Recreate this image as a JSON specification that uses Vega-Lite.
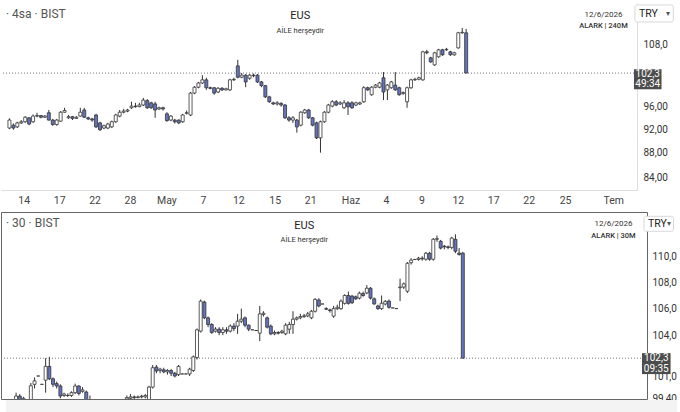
{
  "$schema": "https://vega.github.io/schema/vega-lite/v6.json",
  "padding": {"top": 3, "left": 0, "right": 0, "bottom": 0},
  "background": "#ffffff",
  "spacing": 5,
  "config": {"font": "Roboto", "view": {"stroke": null}, "axis": {"labelOverlap": false}},
  "datasets": {
    "top": [
      {"i":0,"o":92.2,"c":93.6,"h":93.9,"l":92.0},{"i":1,"o":92.7,"c":92.2,"h":93.0,"l":91.9},{"i":2,"o":92.4,"c":93.1,"h":93.3,"l":92.2},
      {"i":3,"o":93.1,"c":93.3,"h":93.6,"l":92.9},{"i":4,"o":93.3,"c":94.1,"h":94.3,"l":93.1},{"i":5,"o":94.0,"c":92.9,"h":94.1,"l":92.7},
      {"i":6,"o":93.3,"c":94.3,"h":94.6,"l":93.1},{"i":7,"o":94.3,"c":94.4,"h":94.9,"l":94.1},{"i":8,"o":94.4,"c":94.1,"h":94.5,"l":93.9},
      {"i":9,"o":94.1,"c":94.3,"h":94.5,"l":94.0},{"i":10,"o":94.9,"c":93.6,"h":95.4,"l":93.5},{"i":11,"o":93.6,"c":92.8,"h":93.8,"l":92.6},
      {"i":12,"o":92.8,"c":93.6,"h":93.8,"l":92.6},{"i":13,"o":93.4,"c":95.0,"h":95.2,"l":93.3},{"i":14,"o":95.0,"c":95.3,"h":95.8,"l":94.9},
      {"i":15,"o":94.0,"c":94.2,"h":94.5,"l":93.8},{"i":16,"o":94.2,"c":93.9,"h":94.3,"l":93.6},{"i":17,"o":93.9,"c":94.1,"h":94.3,"l":93.8},
      {"i":18,"o":94.3,"c":95.0,"h":95.8,"l":94.2},{"i":19,"o":95.4,"c":94.1,"h":95.8,"l":94.0},{"i":20,"o":94.0,"c":93.8,"h":94.2,"l":93.6},
      {"i":21,"o":93.8,"c":93.6,"h":94.0,"l":93.3},{"i":22,"o":94.5,"c":92.4,"h":94.7,"l":92.2},{"i":23,"o":93.1,"c":91.9,"h":93.3,"l":91.7},
      {"i":24,"o":92.2,"c":92.6,"h":92.8,"l":92.0},{"i":25,"o":92.2,"c":92.9,"h":93.1,"l":92.0},{"i":26,"o":92.4,"c":93.3,"h":93.5,"l":92.2},
      {"i":27,"o":93.3,"c":94.5,"h":94.7,"l":93.1},{"i":28,"o":94.3,"c":95.0,"h":95.4,"l":94.1},{"i":29,"o":95.0,"c":95.2,"h":95.6,"l":94.8},
      {"i":30,"o":95.2,"c":95.4,"h":95.6,"l":95.0},{"i":31,"o":95.8,"c":96.1,"h":96.9,"l":95.6},{"i":32,"o":96.1,"c":96.0,"h":96.7,"l":95.8},
      {"i":33,"o":96.0,"c":96.3,"h":96.7,"l":95.9},{"i":34,"o":96.3,"c":97.2,"h":97.6,"l":96.1},{"i":35,"o":97.1,"c":95.8,"h":97.4,"l":95.6},
      {"i":36,"o":96.7,"c":95.8,"h":96.9,"l":95.6},{"i":37,"o":96.5,"c":95.4,"h":96.9,"l":94.0},{"i":38,"o":95.6,"c":95.8,"h":96.0,"l":95.4},
      {"i":39,"o":95.8,"c":95.6,"h":96.0,"l":95.3},{"i":40,"o":94.7,"c":93.5,"h":95.0,"l":93.3},{"i":41,"o":93.6,"c":94.3,"h":94.5,"l":93.4},
      {"i":42,"o":93.6,"c":93.3,"h":93.8,"l":93.0},{"i":43,"o":93.6,"c":93.1,"h":93.7,"l":92.9},{"i":44,"o":93.3,"c":94.5,"h":94.7,"l":93.1},
      {"i":45,"o":94.8,"c":94.9,"h":95.3,"l":94.6},{"i":46,"o":94.5,"c":98.5,"h":98.7,"l":94.3},{"i":47,"o":98.5,"c":99.6,"h":99.8,"l":98.3},
      {"i":48,"o":99.6,"c":100.4,"h":100.6,"l":99.4},{"i":49,"o":100.4,"c":101.0,"h":101.9,"l":100.2},{"i":50,"o":101.0,"c":99.5,"h":101.4,"l":99.1},
      {"i":51,"o":99.5,"c":99.4,"h":99.7,"l":99.2},{"i":52,"o":99.5,"c":98.5,"h":99.6,"l":98.2},{"i":53,"o":98.7,"c":99.4,"h":99.6,"l":98.5},
      {"i":54,"o":99.4,"c":99.1,"h":99.6,"l":98.9},{"i":55,"o":99.1,"c":99.3,"h":99.5,"l":99.0},{"i":56,"o":99.1,"c":101.0,"h":101.2,"l":98.9},
      {"i":57,"o":101.0,"c":101.1,"h":101.4,"l":100.8},{"i":58,"o":103.7,"c":101.5,"h":104.9,"l":101.3},{"i":59,"o":101.5,"c":101.9,"h":102.3,"l":101.3},
      {"i":60,"o":101.9,"c":100.6,"h":102.1,"l":99.6},{"i":61,"o":101.3,"c":101.9,"h":102.1,"l":101.0},{"i":62,"o":101.9,"c":101.8,"h":102.2,"l":101.5},
      {"i":63,"o":101.9,"c":100.6,"h":102.1,"l":100.4},{"i":64,"o":100.6,"c":99.9,"h":100.8,"l":99.6},{"i":65,"o":99.9,"c":97.8,"h":100.0,"l":97.6},
      {"i":66,"o":97.8,"c":96.9,"h":98.0,"l":96.7},{"i":67,"o":96.7,"c":96.5,"h":96.9,"l":96.3},{"i":68,"o":96.5,"c":96.7,"h":97.0,"l":96.2},
      {"i":69,"o":96.6,"c":96.3,"h":96.8,"l":96.0},{"i":70,"o":96.3,"c":94.0,"h":96.5,"l":93.8},{"i":71,"o":94.0,"c":93.6,"h":94.3,"l":93.3},
      {"i":72,"o":93.6,"c":94.0,"h":94.3,"l":93.1},{"i":73,"o":93.6,"c":92.4,"h":93.8,"l":91.4},{"i":74,"o":92.7,"c":95.0,"h":95.2,"l":92.5},
      {"i":75,"o":94.9,"c":95.4,"h":95.6,"l":94.7},{"i":76,"o":95.4,"c":94.0,"h":95.6,"l":93.8},{"i":77,"o":94.0,"c":92.7,"h":94.1,"l":92.5},
      {"i":78,"o":93.1,"c":90.5,"h":93.3,"l":90.3},{"i":79,"o":90.5,"c":93.3,"h":93.5,"l":88.0},{"i":80,"o":93.3,"c":95.0,"h":95.2,"l":93.1},
      {"i":81,"o":95.0,"c":96.3,"h":96.5,"l":94.8},{"i":82,"o":96.1,"c":96.9,"h":97.2,"l":95.9},{"i":83,"o":96.9,"c":96.3,"h":97.2,"l":96.1},
      {"i":84,"o":96.5,"c":96.7,"h":97.0,"l":96.3},{"i":85,"o":95.8,"c":96.7,"h":97.2,"l":95.6},{"i":86,"o":96.7,"c":96.0,"h":97.0,"l":94.5},
      {"i":87,"o":96.7,"c":95.8,"h":97.0,"l":95.6},{"i":88,"o":96.3,"c":96.7,"h":96.9,"l":96.1},{"i":89,"o":96.5,"c":96.7,"h":96.9,"l":96.3},
      {"i":90,"o":96.9,"c":99.5,"h":99.8,"l":96.7},{"i":91,"o":99.5,"c":99.1,"h":99.7,"l":98.9},{"i":92,"o":98.2,"c":99.6,"h":99.8,"l":98.0},
      {"i":93,"o":99.6,"c":100.0,"h":100.2,"l":99.4},{"i":94,"o":99.6,"c":100.4,"h":100.6,"l":99.4},{"i":95,"o":101.4,"c":98.7,"h":102.5,"l":97.2},
      {"i":96,"o":99.1,"c":100.0,"h":100.2,"l":97.2},{"i":97,"o":99.5,"c":100.6,"h":100.8,"l":99.3},{"i":98,"o":100.0,"c":99.1,"h":102.5,"l":98.9},
      {"i":99,"o":99.5,"c":98.2,"h":99.7,"l":98.0},{"i":100,"o":98.4,"c":98.6,"h":98.8,"l":98.2},{"i":101,"o":96.9,"c":99.5,"h":99.7,"l":95.8},
      {"i":102,"o":99.5,"c":101.0,"h":101.2,"l":99.3},{"i":103,"o":101.0,"c":101.1,"h":101.4,"l":100.8},{"i":104,"o":101.1,"c":101.4,"h":101.6,"l":100.9},
      {"i":105,"o":101.0,"c":106.5,"h":106.7,"l":100.8},{"i":106,"o":106.5,"c":106.3,"h":106.9,"l":106.0},{"i":107,"o":105.3,"c":104.5,"h":105.5,"l":104.3},
      {"i":108,"o":103.9,"c":106.3,"h":106.5,"l":103.7},{"i":109,"o":105.5,"c":106.9,"h":107.1,"l":105.3},{"i":110,"o":106.9,"c":105.9,"h":107.1,"l":105.7},
      {"i":111,"o":106.9,"c":107.0,"h":107.3,"l":106.7},{"i":112,"o":106.5,"c":105.9,"h":106.7,"l":105.7},{"i":113,"o":105.9,"c":106.3,"h":106.5,"l":105.7},
      {"i":114,"o":107.3,"c":110.4,"h":110.6,"l":107.1},{"i":115,"o":110.4,"c":110.5,"h":111.4,"l":110.2},{"i":116,"o":110.4,"c":102.3,"h":111.2,"l":102.3}
    ],
    "bot": [
      {"i":0,"o":99.0,"c":98.9,"h":99.2,"l":98.7},{"i":1,"o":98.9,"c":99.2,"h":99.3,"l":98.8},{"i":2,"o":99.3,"c":99.56,"h":99.8,"l":99.1},
      {"i":3,"o":99.56,"c":99.2,"h":99.7,"l":99.0},{"i":4,"o":99.3,"c":99.4,"h":99.5,"l":99.1},{"i":5,"o":99.3,"c":99.2,"h":99.35,"l":99.0},
      {"i":6,"o":99.2,"c":100.3,"h":100.5,"l":99.0},{"i":7,"o":100.4,"c":100.65,"h":100.9,"l":100.1},{"i":8,"o":101.0,"c":101.0,"h":101.0,"l":101.0},
      {"i":9,"o":100.4,"c":100.4,"h":100.4,"l":100.4},{"i":10,"o":100.7,"c":101.7,"h":102.3,"l":99.8},{"i":11,"o":101.7,"c":100.8,"h":102.4,"l":100.7},
      {"i":12,"o":100.8,"c":100.4,"h":100.9,"l":100.2},{"i":13,"o":100.45,"c":100.28,"h":100.6,"l":100.1},{"i":14,"o":100.28,"c":99.56,"h":100.4,"l":99.4},
      {"i":15,"o":99.6,"c":99.7,"h":99.8,"l":99.5},{"i":16,"o":99.6,"c":99.6,"h":99.75,"l":99.5},{"i":17,"o":99.6,"c":99.8,"h":99.9,"l":99.5},
      {"i":18,"o":99.8,"c":100.28,"h":100.45,"l":99.7},{"i":19,"o":100.28,"c":99.75,"h":100.35,"l":99.6},{"i":20,"o":99.9,"c":100.0,"h":100.2,"l":99.8},
      {"i":21,"o":99.85,"c":99.2,"h":99.95,"l":99.0},{"i":22,"o":99.2,"c":99.1,"h":99.6,"l":98.9},{"i":23,"o":99.1,"c":98.9,"h":99.2,"l":98.7},
      {"i":24,"o":98.9,"c":98.6,"h":99.0,"l":98.4},{"i":25,"o":98.6,"c":98.8,"h":98.9,"l":98.5},{"i":26,"o":98.8,"c":98.7,"h":99.0,"l":98.6},
      {"i":27,"o":98.7,"c":98.9,"h":99.1,"l":98.6},{"i":28,"o":98.9,"c":99.0,"h":99.2,"l":98.8},{"i":29,"o":99.0,"c":99.1,"h":99.3,"l":98.9},
      {"i":30,"o":99.1,"c":99.2,"h":99.3,"l":99.0},{"i":31,"o":99.2,"c":99.25,"h":99.3,"l":99.1},{"i":32,"o":99.35,"c":99.45,"h":99.6,"l":99.3},
      {"i":33,"o":99.4,"c":99.5,"h":99.7,"l":99.3},{"i":34,"o":99.5,"c":99.45,"h":99.6,"l":99.3},{"i":35,"o":99.45,"c":99.5,"h":99.6,"l":99.4},
      {"i":36,"o":99.5,"c":99.55,"h":99.65,"l":99.4},{"i":37,"o":99.5,"c":99.6,"h":99.7,"l":99.4},{"i":38,"o":99.3,"c":100.2,"h":100.3,"l":99.2},
      {"i":39,"o":100.2,"c":101.6,"h":101.8,"l":100.1},{"i":40,"o":101.65,"c":101.36,"h":101.8,"l":101.2},{"i":41,"o":101.4,"c":101.5,"h":101.6,"l":101.2},
      {"i":42,"o":101.45,"c":101.3,"h":101.6,"l":101.2},{"i":43,"o":101.3,"c":101.4,"h":101.5,"l":101.1},{"i":44,"o":101.4,"c":101.2,"h":101.5,"l":101.0},
      {"i":45,"o":101.2,"c":101.0,"h":101.3,"l":100.9},{"i":46,"o":101.1,"c":101.7,"h":101.8,"l":101.0},{"i":47,"o":101.15,"c":101.15,"h":101.15,"l":101.15},
      {"i":48,"o":101.15,"c":101.15,"h":101.15,"l":101.15},{"i":49,"o":101.15,"c":101.5,"h":101.6,"l":101.0},{"i":50,"o":101.4,"c":102.4,"h":102.5,"l":101.3},
      {"i":51,"o":102.35,"c":104.4,"h":104.5,"l":102.2},{"i":52,"o":104.3,"c":106.57,"h":106.7,"l":104.2},{"i":53,"o":106.5,"c":105.3,"h":106.6,"l":105.2},
      {"i":54,"o":105.3,"c":104.8,"h":105.4,"l":104.6},{"i":55,"o":104.8,"c":104.2,"h":104.9,"l":104.1},{"i":56,"o":104.3,"c":104.45,"h":104.6,"l":104.2},
      {"i":57,"o":104.45,"c":104.2,"h":104.6,"l":104.0},{"i":58,"o":104.2,"c":104.4,"h":104.6,"l":104.0},{"i":59,"o":104.4,"c":104.3,"h":104.6,"l":104.1},
      {"i":60,"o":104.3,"c":104.68,"h":104.8,"l":104.2},{"i":61,"o":104.68,"c":104.5,"h":104.9,"l":104.3},{"i":62,"o":104.68,"c":105.05,"h":105.6,"l":104.1},
      {"i":63,"o":105.05,"c":105.2,"h":106.0,"l":104.9},{"i":64,"o":105.3,"c":104.75,"h":105.4,"l":104.6},{"i":65,"o":104.75,"c":104.45,"h":104.8,"l":104.3},
      {"i":66,"o":104.4,"c":104.4,"h":104.4,"l":104.4},{"i":67,"o":104.35,"c":104.35,"h":104.35,"l":104.35},{"i":68,"o":104.15,"c":105.6,"h":106.2,"l":103.56},
      {"i":69,"o":105.55,"c":105.65,"h":105.8,"l":105.4},{"i":70,"o":105.3,"c":104.6,"h":105.4,"l":104.5},{"i":71,"o":104.68,"c":104.1,"h":104.8,"l":104.0},
      {"i":72,"o":104.1,"c":104.2,"h":104.35,"l":104.0},{"i":73,"o":104.2,"c":104.15,"h":104.3,"l":104.05},{"i":74,"o":104.2,"c":104.3,"h":104.4,"l":104.1},
      {"i":75,"o":104.1,"c":104.75,"h":104.9,"l":104.0},{"i":76,"o":104.45,"c":104.8,"h":105.0,"l":104.1},{"i":77,"o":104.8,"c":105.2,"h":105.8,"l":104.1},
      {"i":78,"o":105.2,"c":105.3,"h":105.4,"l":105.1},{"i":79,"o":105.3,"c":105.4,"h":105.6,"l":105.2},{"i":80,"o":105.4,"c":105.45,"h":105.6,"l":105.3},
      {"i":81,"o":105.45,"c":105.6,"h":105.75,"l":105.35},{"i":82,"o":105.3,"c":105.8,"h":105.9,"l":105.2},{"i":83,"o":105.8,"c":106.7,"h":106.8,"l":105.7},
      {"i":84,"o":106.65,"c":106.2,"h":106.8,"l":106.1},{"i":85,"o":106.35,"c":106.35,"h":106.35,"l":106.35},{"i":86,"o":106.0,"c":105.95,"h":106.1,"l":105.9},
      {"i":87,"o":105.9,"c":105.85,"h":106.0,"l":105.7},{"i":88,"o":105.43,"c":106.0,"h":106.2,"l":105.3},{"i":89,"o":106.0,"c":106.1,"h":106.3,"l":105.9},
      {"i":90,"o":106.0,"c":106.57,"h":106.7,"l":105.9},{"i":91,"o":106.4,"c":107.0,"h":107.1,"l":106.3},{"i":92,"o":107.0,"c":106.4,"h":107.3,"l":106.3},
      {"i":93,"o":106.95,"c":106.45,"h":107.05,"l":106.35},{"i":94,"o":106.9,"c":106.75,"h":107.0,"l":106.65},{"i":95,"o":106.8,"c":107.18,"h":107.3,"l":106.7},
      {"i":96,"o":107.15,"c":107.0,"h":107.3,"l":106.9},{"i":97,"o":107.2,"c":107.56,"h":107.8,"l":107.1},{"i":98,"o":107.56,"c":106.8,"h":107.65,"l":106.7},
      {"i":99,"o":106.75,"c":106.35,"h":106.85,"l":106.3},{"i":100,"o":106.2,"c":106.0,"h":106.3,"l":105.9},{"i":101,"o":106.0,"c":106.41,"h":107.0,"l":105.9},
      {"i":102,"o":106.35,"c":106.55,"h":106.65,"l":106.25},{"i":103,"o":106.57,"c":106.1,"h":106.7,"l":106.0},{"i":104,"o":106.05,"c":106.05,"h":106.05,"l":106.05},
      {"i":105,"o":106.0,"c":106.0,"h":106.0,"l":106.0},{"i":106,"o":107.6,"c":107.65,"h":108.3,"l":106.57},{"i":107,"o":107.65,"c":107.9,"h":108.0,"l":107.5},
      {"i":108,"o":107.33,"c":109.5,"h":109.6,"l":107.2},{"i":109,"o":109.55,"c":109.75,"h":109.9,"l":109.4},{"i":110,"o":109.8,"c":109.8,"h":109.8,"l":109.8},
      {"i":111,"o":109.8,"c":109.9,"h":110.0,"l":109.7},{"i":112,"o":109.9,"c":109.85,"h":110.05,"l":109.7},{"i":113,"o":109.82,"c":110.29,"h":110.4,"l":109.7},
      {"i":114,"o":110.29,"c":109.82,"h":110.4,"l":109.7},{"i":115,"o":109.82,"c":111.4,"h":111.5,"l":109.7},{"i":116,"o":111.4,"c":111.45,"h":111.7,"l":111.2},
      {"i":117,"o":111.24,"c":110.7,"h":111.35,"l":110.6},{"i":118,"o":110.85,"c":110.8,"h":110.95,"l":110.6},{"i":119,"o":110.8,"c":110.75,"h":110.9,"l":110.6},
      {"i":120,"o":110.75,"c":111.5,"h":111.6,"l":110.6},{"i":121,"o":111.4,"c":110.45,"h":111.8,"l":110.3},{"i":122,"o":110.3,"c":110.2,"h":110.7,"l":110.1},
      {"i":123,"o":110.3,"c":102.3,"h":110.4,"l":102.3}
    ]
  },
  "vconcat": [
    {
      "width": 636,
      "height": 187,
      "layer": [
        {
          "data": {"values": [{}]},
          "mark": {"type": "rule", "strokeDash": [1, 2], "color": "#777", "strokeWidth": 1},
          "encoding": {"y": {"datum": 102.3}}
        },
        {
          "data": {"name": "top"},
          "mark": {"type": "rule", "color": "#333", "strokeWidth": 1, "clip": true},
          "encoding": {
            "x": {
              "field": "i", "type": "quantitative",
              "scale": {"domain": [-0.875, 158.125], "nice": false, "zero": false},
              "axis": {
                "title": null, "grid": false, "ticks": false, "domainColor": "#dddddd",
                "labelFontSize": 10.5, "labelColor": "#444", "labelPadding": 5,
                "labelFlush": false, "labelOverlap": false, "tickCount": 100,
                "values": [3.625, 12.625, 21.625, 30.625, 39.875, 49.125, 58.125, 67.375, 76.375, 86.625, 95.625, 104.625, 113.875, 122.875, 131.875, 141.125, 153.375],
                "labelExpr": "datum.value < 8 ? '14' : datum.value < 17 ? '17' : datum.value < 26 ? '22' : datum.value < 35 ? '28' : datum.value < 44 ? 'May' : datum.value < 53 ? '7' : datum.value < 62 ? '12' : datum.value < 71 ? '15' : datum.value < 80 ? '21' : datum.value < 90 ? 'Haz' : datum.value < 100 ? '4' : datum.value < 109 ? '9' : datum.value < 118 ? '12' : datum.value < 127 ? '17' : datum.value < 136 ? '22' : datum.value < 146 ? '25' : 'Tem'"
              }
            },
            "y": {
              "field": "l", "type": "quantitative",
              "scale": {"type": "log", "domain": [82.0, 116.8], "nice": false, "zero": false},
              "axis": {
                "orient": "right", "title": null, "grid": false, "ticks": false,
                "domainColor": "#dddddd", "labelFontSize": 10, "labelColor": "#333",
                "labelPadding": 6, "labelOverlap": false, "tickCount": 100, "values": [84, 88, 92, 96, 108],
                "labelExpr": "replace(format(datum.value, datum.value >= 100 ? '.1f' : '.2f'), '.', ',')"
              }
            },
            "y2": {"field": "h"}
          }
        },
        {
          "data": {"name": "top"},
          "mark": {"type": "bar", "size": 3, "stroke": "#333", "strokeWidth": 0.8, "clip": true},
          "encoding": {
            "x": {"field": "i", "type": "quantitative"},
            "y": {"field": "o", "type": "quantitative"},
            "y2": {"field": "c"},
            "fill": {"condition": {"test": "datum.c < datum.o", "value": "#6474bf"}, "value": "#ffffff"}
          }
        },
        {
          "data": {"values": [{}]},
          "mark": {"type": "text", "text": "· 4sa · BIST", "fontSize": 12, "color": "#555", "align": "left", "baseline": "middle"},
          "encoding": {"x": {"datum": -0.875}, "y": {"datum": 114.4}}
        },
        {
          "data": {"values": [{}]},
          "mark": {"type": "text", "text": "EUS", "fontSize": 11, "color": "#222", "align": "center", "baseline": "middle"},
          "encoding": {"x": {"datum": 73.875}, "y": {"datum": 113.96}}
        },
        {
          "data": {"values": [{}]},
          "mark": {"type": "text", "text": "AİLE herşeydir", "fontSize": 7.5, "color": "#333", "align": "center", "baseline": "middle"},
          "encoding": {"x": {"datum": 73.875}, "y": {"datum": 110.84}}
        },
        {
          "data": {"values": [{}]},
          "mark": {"type": "text", "text": "12/6/2026", "fontSize": 8, "color": "#333", "align": "center", "baseline": "middle"},
          "encoding": {"x": {"datum": 150.875}, "y": {"datum": 114.17}}
        },
        {
          "data": {"values": [{}]},
          "mark": {"type": "text", "text": "ALARK | 240M", "fontSize": 7.5, "fontWeight": 500, "color": "#333", "align": "center", "baseline": "middle"},
          "encoding": {"x": {"datum": 150.875}, "y": {"datum": 111.83}}
        },
        {
          "data": {"values": [{}]},
          "mark": {"type": "rect", "fill": "#ffffff", "stroke": "#d8d8d8", "cornerRadius": 2},
          "encoding": {"x": {"datum": 158.875}, "x2": {"datum": 168.625}, "y": {"datum": 116.37}, "y2": {"datum": 112.68}}
        },
        {
          "data": {"values": [{}]},
          "mark": {"type": "text", "text": "TRY", "fontSize": 10.5, "color": "#222", "align": "left", "baseline": "middle"},
          "encoding": {"x": {"datum": 159.875}, "y": {"datum": 114.5}}
        },
        {
          "data": {"values": [{}]},
          "mark": {"type": "text", "text": "▾", "fontSize": 8, "color": "#555", "align": "center", "baseline": "middle"},
          "encoding": {"x": {"datum": 167.375}, "y": {"datum": 114.5}}
        },
        {
          "data": {"values": [{}]},
          "mark": {"type": "rect", "fill": "#4d4d4d"},
          "encoding": {"x": {"datum": 158.625}, "x2": {"datum": 165.625}, "y": {"datum": 103.04}, "y2": {"datum": 99.21}}
        },
        {
          "data": {"values": [{}]},
          "mark": {"type": "text", "text": "102,3", "fontSize": 10, "color": "#ffffff", "align": "center", "baseline": "middle"},
          "encoding": {"x": {"datum": 162.125}, "y": {"datum": 102.03}}
        },
        {
          "data": {"values": [{}]},
          "mark": {"type": "text", "text": "49:34", "fontSize": 10, "color": "#ffffff", "align": "center", "baseline": "middle"},
          "encoding": {"x": {"datum": 162.125}, "y": {"datum": 100.21}}
        }
      ]
    },
    {
      "width": 646,
      "height": 187,
      "view": {"stroke": "#666666", "strokeWidth": 1},
      "layer": [
        {
          "data": {"values": [{}]},
          "mark": {"type": "rule", "strokeDash": [1, 2], "color": "#777", "strokeWidth": 1},
          "encoding": {"y": {"datum": 102.3}}
        },
        {
          "data": {"name": "bot"},
          "mark": {"type": "rule", "color": "#333", "strokeWidth": 1, "clip": true},
          "encoding": {
            "x": {
              "field": "i", "type": "quantitative",
              "scale": {"domain": [-0.733, 171.533], "nice": false, "zero": false},
              "axis": null
            },
            "y": {
              "field": "l", "type": "quantitative",
              "scale": {"type": "log", "domain": [99.35, 113.6], "nice": false, "zero": false},
              "axis": {
                "orient": "right", "title": null, "grid": false, "ticks": false, "domain": false,
                "labelFontSize": 10, "labelColor": "#333", "labelPadding": 5, "labelOverlap": false, "tickCount": 100,
                "values": [99.4, 101, 104, 106, 108, 110],
                "labelExpr": "replace(format(datum.value, datum.value >= 100 ? '.1f' : '.2f'), '.', ',')"
              }
            },
            "y2": {"field": "h"}
          }
        },
        {
          "data": {"name": "bot"},
          "mark": {"type": "bar", "size": 3, "stroke": "#333", "strokeWidth": 0.8, "clip": true},
          "encoding": {
            "x": {"field": "i", "type": "quantitative"},
            "y": {"field": "o", "type": "quantitative"},
            "y2": {"field": "c"},
            "fill": {"condition": {"test": "datum.c < datum.o", "value": "#6474bf"}, "value": "#ffffff"}
          }
        },
        {
          "data": {"values": [{}]},
          "mark": {"type": "rect", "fill": "#f3f3f3"},
          "encoding": {"x": {"datum": -0.733}, "x2": {"datum": 181}, "y": {"datum": 99.28}, "y2": {"datum": 98.3}}
        },
        {
          "data": {"values": [{}]},
          "mark": {"type": "text", "text": "· 30 · BIST", "fontSize": 12, "color": "#555", "align": "left", "baseline": "middle"},
          "encoding": {"x": {"datum": -0.733}, "y": {"datum": 112.71}}
        },
        {
          "data": {"values": [{}]},
          "mark": {"type": "text", "text": "EUS", "fontSize": 11, "color": "#222", "align": "center", "baseline": "middle"},
          "encoding": {"x": {"datum": 80.067}, "y": {"datum": 112.44}}
        },
        {
          "data": {"values": [{}]},
          "mark": {"type": "text", "text": "AİLE herşeydir", "fontSize": 7.5, "color": "#333", "align": "center", "baseline": "middle"},
          "encoding": {"x": {"datum": 80.067}, "y": {"datum": 111.32}}
        },
        {
          "data": {"values": [{}]},
          "mark": {"type": "text", "text": "12/6/2026", "fontSize": 8, "color": "#333", "align": "center", "baseline": "middle"},
          "encoding": {"x": {"datum": 163.8}, "y": {"datum": 112.66}}
        },
        {
          "data": {"values": [{}]},
          "mark": {"type": "text", "text": "ALARK | 30M", "fontSize": 7.5, "fontWeight": 500, "color": "#333", "align": "center", "baseline": "middle"},
          "encoding": {"x": {"datum": 163.8}, "y": {"datum": 111.7}}
        },
        {
          "data": {"values": [{}]},
          "mark": {"type": "rect", "fill": "#ffffff", "stroke": "#d8d8d8", "cornerRadius": 2},
          "encoding": {"x": {"datum": 172.07}, "x2": {"datum": 180.07}, "y": {"datum": 113.25}, "y2": {"datum": 112.04}}
        },
        {
          "data": {"values": [{}]},
          "mark": {"type": "text", "text": "TRY", "fontSize": 10.5, "color": "#222", "align": "left", "baseline": "middle"},
          "encoding": {"x": {"datum": 173.13}, "y": {"datum": 112.65}}
        },
        {
          "data": {"values": [{}]},
          "mark": {"type": "text", "text": "▾", "fontSize": 8, "color": "#555", "align": "center", "baseline": "middle"},
          "encoding": {"x": {"datum": 178.73}, "y": {"datum": 112.65}}
        },
        {
          "data": {"values": [{}]},
          "mark": {"type": "rect", "fill": "#4d4d4d"},
          "encoding": {"x": {"datum": 171.53}, "x2": {"datum": 179.27}, "y": {"datum": 102.67}, "y2": {"datum": 101.14}}
        },
        {
          "data": {"values": [{}]},
          "mark": {"type": "text", "text": "102,3", "fontSize": 10, "color": "#ffffff", "align": "center", "baseline": "middle"},
          "encoding": {"x": {"datum": 175.4}, "y": {"datum": 102.3}}
        },
        {
          "data": {"values": [{}]},
          "mark": {"type": "text", "text": "09:35", "fontSize": 10, "color": "#ffffff", "align": "center", "baseline": "middle"},
          "encoding": {"x": {"datum": 175.4}, "y": {"datum": 101.54}}
        }
      ]
    }
  ]
}
